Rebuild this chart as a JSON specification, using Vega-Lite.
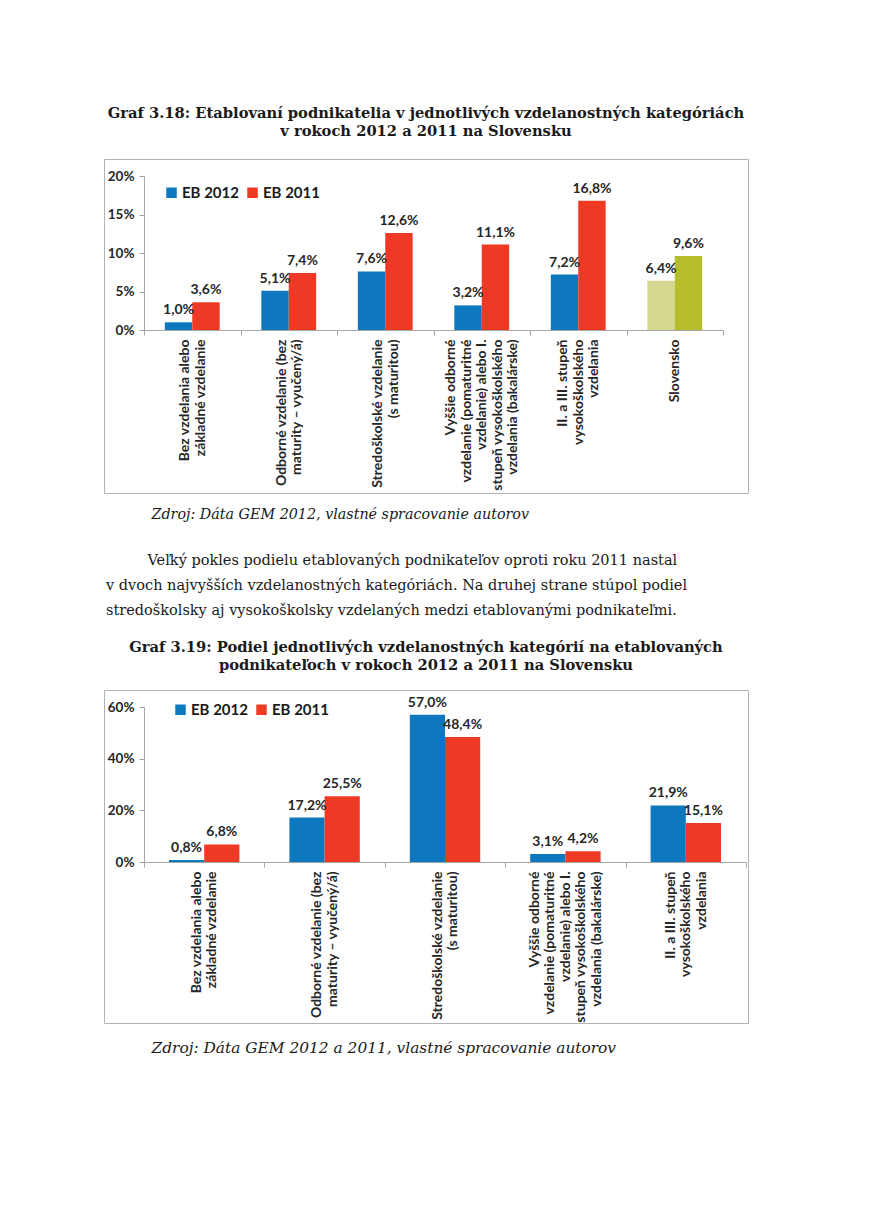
{
  "$schema": "https://vega.github.io/schema/vega-lite/v6.json",
  "background": "white",
  "padding": {"left": 96, "top": 105, "right": 0, "bottom": 0},
  "spacing": 21,
  "resolve": {"scale": {"x": "independent", "xOffset": "independent", "y": "independent", "color": "independent"}},
  "config": {
    "locale": {"number": {"decimal": ",", "thousands": " ", "grouping": [3], "currency": ["", " €"], "percent": "%"}},
    "view": {"stroke": "#B3B3B3", "strokeWidth": 1},
    "font": "Lato",
    "title": {"font": "DejaVu Serif", "fontWeight": "bold", "fontSize": 14.7, "color": "#1a1a1a", "anchor": "middle", "lineHeight": 18, "offset": 20},
    "axis": {"domainColor": "#A6A6A6", "tickColor": "#A6A6A6", "grid": false, "labelFont": "Lato", "labelFontWeight": "bold", "labelColor": "#262626", "labelFontSize": 13.5, "tickSize": 5},
    "legend": {"orient": "none", "direction": "horizontal", "title": null, "symbolType": "square", "symbolSize": 110, "symbolStrokeWidth": 0, "labelFont": "Lato", "labelFontWeight": "bold", "labelFontSize": 15, "labelColor": "#1a1a1a", "labelOffset": 3, "columnPadding": 6}
  },
  "datasets": {
    "g318": [
      {"cat": "Bez vzdelania alebo|základné vzdelanie", "series": "EB 2012", "value": 0.010},
      {"cat": "Bez vzdelania alebo|základné vzdelanie", "series": "EB 2011", "value": 0.036},
      {"cat": "Odborné vzdelanie (bez|maturity – vyučený/á)", "series": "EB 2012", "value": 0.051},
      {"cat": "Odborné vzdelanie (bez|maturity – vyučený/á)", "series": "EB 2011", "value": 0.074},
      {"cat": "Stredoškolské vzdelanie|(s maturitou)", "series": "EB 2012", "value": 0.076},
      {"cat": "Stredoškolské vzdelanie|(s maturitou)", "series": "EB 2011", "value": 0.126},
      {"cat": "Vyššie odborné|vzdelanie (pomaturitné|vzdelanie) alebo I.|stupeň vysokoškolského|vzdelania (bakalárske)", "series": "EB 2012", "value": 0.032},
      {"cat": "Vyššie odborné|vzdelanie (pomaturitné|vzdelanie) alebo I.|stupeň vysokoškolského|vzdelania (bakalárske)", "series": "EB 2011", "value": 0.111},
      {"cat": "II. a III. stupeň|vysokoškolského|vzdelania", "series": "EB 2012", "value": 0.072},
      {"cat": "II. a III. stupeň|vysokoškolského|vzdelania", "series": "EB 2011", "value": 0.168},
      {"cat": "Slovensko", "series": "EB 2012", "value": 0.064},
      {"cat": "Slovensko", "series": "EB 2011", "value": 0.096}
    ],
    "g319": [
      {"cat": "Bez vzdelania alebo|základné vzdelanie", "series": "EB 2012", "value": 0.008},
      {"cat": "Bez vzdelania alebo|základné vzdelanie", "series": "EB 2011", "value": 0.068},
      {"cat": "Odborné vzdelanie (bez|maturity – vyučený/á)", "series": "EB 2012", "value": 0.172},
      {"cat": "Odborné vzdelanie (bez|maturity – vyučený/á)", "series": "EB 2011", "value": 0.255},
      {"cat": "Stredoškolské vzdelanie|(s maturitou)", "series": "EB 2012", "value": 0.570},
      {"cat": "Stredoškolské vzdelanie|(s maturitou)", "series": "EB 2011", "value": 0.484},
      {"cat": "Vyššie odborné|vzdelanie (pomaturitné|vzdelanie) alebo I.|stupeň vysokoškolského|vzdelania (bakalárske)", "series": "EB 2012", "value": 0.031},
      {"cat": "Vyššie odborné|vzdelanie (pomaturitné|vzdelanie) alebo I.|stupeň vysokoškolského|vzdelania (bakalárske)", "series": "EB 2011", "value": 0.042},
      {"cat": "II. a III. stupeň|vysokoškolského|vzdelania", "series": "EB 2012", "value": 0.219},
      {"cat": "II. a III. stupeň|vysokoškolského|vzdelania", "series": "EB 2011", "value": 0.151}
    ]
  },
  "vconcat": [
    {
      "width": 644,
      "height": 334,
      "title": {"text": ["Graf 3.18: Etablovaní podnikatelia v jednotlivých vzdelanostných kategóriách", "v rokoch 2012 a 2011 na Slovensku"]},
      "data": {"name": "g318"},
      "encoding": {
        "x": {"field": "cat", "type": "nominal", "sort": null,
              "scale": {"type": "band", "range": [40, 619], "paddingInner": 0, "paddingOuter": 0},
              "axis": {"orient": "bottom", "offset": -163, "tickBand": "extent", "labelAngle": 270, "labelAlign": "right", "labelBaseline": "middle", "labelPadding": 4, "labelFontSize": 14, "labelLineHeight": 15.5, "labelLimit": 0, "labelExpr": "split(datum.label, '|')",
                       "labelOffset": {"condition": [
                         {"test": "length(split(datum.value, '|')) == 2", "value": -7.75},
                         {"test": "length(split(datum.value, '|')) == 3", "value": -15.5},
                         {"test": "length(split(datum.value, '|')) == 5", "value": -31}
                       ], "value": 0},
                       "title": "Zdroj: Dáta GEM 2012, vlastné spracovanie autorov", "titleFont": "DejaVu Serif", "titleFontStyle": "italic", "titleFontWeight": "normal", "titleFontSize": 14.3, "titleColor": "#1a1a1a", "titleAlign": "left", "titleAnchor": "start", "titleBaseline": "alphabetic", "titleX": 47, "titleY": 188}},
        "xOffset": {"field": "series", "type": "nominal", "sort": ["EB 2012", "EB 2011"], "scale": {"range": [0, 96.5], "paddingInner": 0, "paddingOuter": 0.76}},
        "y": {"field": "value", "type": "quantitative",
              "scale": {"domain": [0, 0.2], "range": [171, 17], "nice": false, "zero": true},
              "axis": {"orient": "left", "offset": -40, "values": [0, 0.05, 0.1, 0.15, 0.2], "format": ".0%", "title": null, "labelPadding": 5}}
      },
      "layer": [
        {
          "mark": {"type": "bar"},
          "encoding": {
            "color": {
              "field": "series", "type": "nominal",
              "scale": {"domain": ["EB 2012", "EB 2011"], "range": ["#0E78BE", "#EE3A24"]},
              "legend": {"legendX": 60, "legendY": 26},
              "condition": [
                {"test": "datum.cat === 'Slovensko' && datum.series === 'EB 2012'", "value": "#D3D78F"},
                {"test": "datum.cat === 'Slovensko' && datum.series === 'EB 2011'", "value": "#B6BF2B"}
              ]
            }
          }
        },
        {
          "mark": {"type": "text", "font": "Lato", "fontWeight": "bold", "fontSize": 14, "color": "#262626", "baseline": "alphabetic", "dy": -8},
          "encoding": {"text": {"field": "value", "type": "quantitative", "format": ".1%"}}
        }
      ]
    },
    {
      "width": 644,
      "height": 10,
      "view": {"stroke": null},
      "data": {"values": [{"a": 1}]},
      "mark": {"type": "text", "opacity": 0},
      "title": {
        "text": ["\u200b\u00a0\u00a0\u00a0\u00a0\u00a0\u00a0\u00a0\u00a0\u00a0Veľký pokles podielu etablovaných podnikateľov oproti roku 2011 nastal", "v dvoch najvyšších vzdelanostných kategóriách. Na druhej strane stúpol podiel", "stredoškolsky aj vysokoškolsky vzdelaných medzi etablovanými podnikateľmi."],
        "orient": "bottom", "anchor": "start", "fontWeight": "normal", "fontSize": 14.5, "lineHeight": 25, "offset": 0, "dx": 2
      }
    },
    {
      "width": 644,
      "height": 333,
      "title": {"text": ["Graf 3.19: Podiel jednotlivých vzdelanostných kategórií na etablovaných", "podnikateľoch v rokoch 2012 a 2011 na Slovensku"], "offset": 17},
      "data": {"name": "g319"},
      "encoding": {
        "x": {"field": "cat", "type": "nominal", "sort": null,
              "scale": {"type": "band", "range": [40, 642], "paddingInner": 0, "paddingOuter": 0},
              "axis": {"orient": "bottom", "offset": -161, "tickBand": "extent", "labelAngle": 270, "labelAlign": "right", "labelBaseline": "middle", "labelPadding": 4, "labelFontSize": 14, "labelLineHeight": 15.5, "labelLimit": 0, "labelExpr": "split(datum.label, '|')",
                       "labelOffset": {"condition": [
                         {"test": "length(split(datum.value, '|')) == 2", "value": -7.75},
                         {"test": "length(split(datum.value, '|')) == 3", "value": -15.5},
                         {"test": "length(split(datum.value, '|')) == 5", "value": -31}
                       ], "value": 0},
                       "title": "Zdroj: Dáta GEM 2012 a 2011, vlastné spracovanie autorov", "titleFont": "DejaVu Serif", "titleFontStyle": "italic", "titleFontWeight": "normal", "titleFontSize": 15.4, "titleColor": "#1a1a1a", "titleAlign": "left", "titleAnchor": "start", "titleBaseline": "alphabetic", "titleX": 47, "titleY": 190}},
        "xOffset": {"field": "series", "type": "nominal", "sort": ["EB 2012", "EB 2011"], "scale": {"range": [0, 120.4], "paddingInner": 0, "paddingOuter": 0.71}},
        "y": {"field": "value", "type": "quantitative",
              "scale": {"domain": [0, 0.6], "range": [172, 17], "nice": false, "zero": true},
              "axis": {"orient": "left", "offset": -40, "values": [0, 0.2, 0.4, 0.6], "format": ".0%", "title": null, "labelPadding": 5}}
      },
      "layer": [
        {
          "mark": {"type": "bar"},
          "encoding": {
            "color": {
              "field": "series", "type": "nominal",
              "scale": {"domain": ["EB 2012", "EB 2011"], "range": ["#0E78BE", "#EE3A24"]},
              "legend": {"legendX": 69, "legendY": 12}
            }
          }
        },
        {
          "mark": {"type": "text", "font": "Lato", "fontWeight": "bold", "fontSize": 14, "color": "#262626", "baseline": "alphabetic", "dy": -8},
          "encoding": {"text": {"field": "value", "type": "quantitative", "format": ".1%"}}
        }
      ]
    }
  ]
}
